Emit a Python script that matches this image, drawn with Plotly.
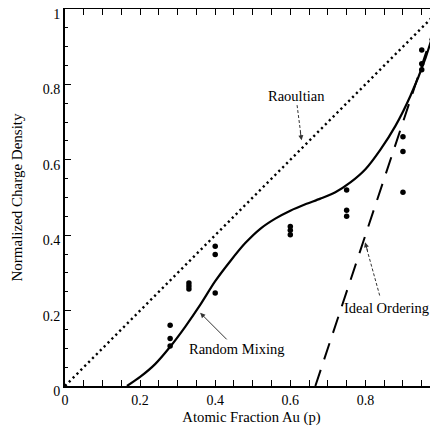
import plotly.graph_objects as go

# Experimental compositions (atomic fraction Au) and measured normalized charge density
composition = [0.28, 0.33, 0.40, 0.60, 0.75, 0.90, 0.95]
charge_a = [0.161, 0.273, 0.371, 0.423, 0.520, 0.661, 0.891]
charge_b = [0.126, 0.265, 0.349, 0.413, 0.466, 0.622, 0.855]
charge_c = [0.106, 0.257, 0.247, 0.401, 0.450, 0.514, 0.839]

# Random mixing model curve
mix_x = [0.165, 0.20, 0.24, 0.28, 0.32, 0.36, 0.40, 0.44, 0.48, 0.52, 0.56,
         0.60, 0.64, 0.68, 0.72, 0.76, 0.80, 0.84, 0.88, 0.92, 0.96, 1.00]
mix_y = [0.0, 0.024, 0.058, 0.104, 0.157, 0.215, 0.278, 0.331, 0.379, 0.417, 0.444,
         0.465, 0.482, 0.497, 0.514, 0.540, 0.575, 0.627, 0.690, 0.770, 0.870, 1.00]

# Raoultian (ideal) line and ideal ordering line
raoult_x = [0.0, 1.0]
raoult_y = [0.0, 1.0]
order_x = [2.0 / 3.0, 1.0]
order_y = [0.0, 1.0]

x_ticks = [0, 0.2, 0.4, 0.6, 0.8]
y_ticks = [0, 0.2, 0.4, 0.6, 0.8, 1]

FONT = "Liberation Serif"

fig = go.Figure()
fig.add_trace(go.Scatter(x=raoult_x, y=raoult_y, mode="lines",
                         line=dict(color="black", width=2.4, dash="2.2px,3.3px"),
                         hoverinfo="skip"))
fig.add_trace(go.Scatter(x=order_x, y=order_y, mode="lines",
                         line=dict(color="black", width=2, dash="17px,11px"),
                         hoverinfo="skip"))
fig.add_trace(go.Scatter(x=mix_x, y=mix_y, mode="lines",
                         line=dict(color="black", width=2.2, shape="spline", smoothing=0.8),
                         hoverinfo="skip"))
for vals in (charge_a, charge_b, charge_c):
    fig.add_trace(go.Scatter(x=composition, y=vals, mode="markers",
                             marker=dict(color="black", size=5.5)))
# helper trace so the right-side tick axis is drawn
fig.add_trace(go.Scatter(x=[None], y=[None], yaxis="y2", mode="markers",
                         hoverinfo="skip"))

ann_font = dict(family=FONT, size=14.5, color="black")
# Raoultian label + dashed arrow
fig.add_shape(type="line", x0=0.618, y0=0.745, x1=0.629, y1=0.66,
              line=dict(color="#333", width=1, dash="3px,2px"))
fig.add_annotation(x=0.617, y=0.770, text="Raoultian", showarrow=False, font=ann_font)
fig.add_annotation(x=0.630, y=0.652, ax=-1.5, ay=-10, text="", showarrow=True,
                   arrowhead=2, arrowsize=1, arrowwidth=1, arrowcolor="#333")
# Ideal ordering label + dashed arrow
fig.add_shape(type="line", x0=0.838, y0=0.240, x1=0.802, y1=0.370,
              line=dict(color="#333", width=1, dash="3px,2px"))
fig.add_annotation(x=0.974, y=0.206, xanchor="right", text="Ideal Ordering",
                   showarrow=False, font=ann_font)
fig.add_annotation(x=0.799, y=0.381, ax=3, ay=10, text="", showarrow=True,
                   arrowhead=2, arrowsize=1, arrowwidth=1, arrowcolor="#333")
# Random mixing label + arrow
fig.add_annotation(x=0.36, y=0.194, ax=36, ay=36, text="Random Mixing", showarrow=True,
                   arrowhead=2, arrowsize=1, arrowwidth=1, arrowcolor="#333", font=ann_font)

axis_common = dict(showgrid=False, zeroline=False, showline=True, linecolor="black",
                   linewidth=2, ticks="inside", ticklen=6, tickwidth=1, tickcolor="black",
                   automargin=False,
                   tickfont=dict(family=FONT, size=14, color="black"))

fig.update_layout(
    width=430, height=418,
    margin=dict(l=57, r=0, t=1, b=40),
    paper_bgcolor="white", plot_bgcolor="white",
    showlegend=False,
    xaxis=dict(range=[0, 0.9933], tickvals=x_ticks, mirror="allticks",
               minor=dict(dtick=0.05, ticks="inside", ticklen=3, tickcolor="black", tickwidth=1),
               title=dict(text="Atomic Fraction Au (p)", font=dict(family=FONT, size=14.7, color="black"),
                          standoff=8),
               **axis_common),
    yaxis=dict(range=[0, 1], tickvals=y_ticks, mirror=False, ticklabelshift=5,
               ticklabeloverflow="allow",
               minor=dict(dtick=0.05, ticks="inside", ticklen=3, tickcolor="black", tickwidth=1),
               title=dict(text="Normalized Charge Density", font=dict(family=FONT, size=15, color="black"),
                          standoff=16),
               **axis_common),
    yaxis2=dict(range=[0, 1], overlaying="y", side="right", anchor="x", automargin=False,
                tickvals=y_ticks, showticklabels=False, showline=False, showgrid=False,
                zeroline=False, ticks="inside", ticklen=5, tickcolor="black"),
)

fig.write_html("out.html")
